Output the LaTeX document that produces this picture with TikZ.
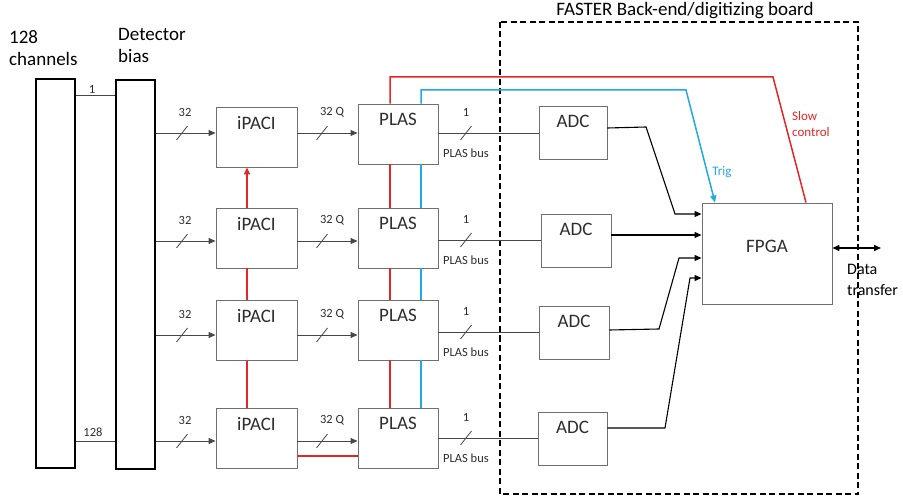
\documentclass[tikz,border=0pt]{standalone}
\usepackage{fontspec}
\setmainfont{Carlito}
\usetikzlibrary{arrows.meta,calc}
\definecolor{sred}{RGB}{228,38,38}
\definecolor{sblue}{RGB}{32,170,228}
\definecolor{bgray}{RGB}{112,112,112}
\definecolor{tgray}{RGB}{45,45,45}
\definecolor{lgray}{RGB}{70,70,70}
\tikzset{
  box/.style={draw=bgray, line width=0.9pt, inner sep=0pt, anchor=center},
  tall/.style={draw=black, line width=1.4pt, inner sep=0pt, minimum width=39, minimum height=389},
  big/.style={font=\fontsize{19}{21}\selectfont, text=tgray, inner sep=0pt},
  small/.style={font=\fontsize{12.5}{13}\selectfont, text=tgray, inner sep=0pt},
  head/.style={font=\fontsize{19}{22}\selectfont, text=black, inner sep=0pt, align=left, anchor=north west},
  conn/.style={draw=lgray, line width=0.9pt},
  arr/.style={conn, -{Triangle[length=7pt,width=6pt]}},
  fl/.style={draw=black, line width=1.1pt, -{Triangle[length=7pt,width=6pt]}},
  slash/.style={draw=lgray, line width=0.8pt},
  redl/.style={draw=sred, line width=1.5pt},
  bluel/.style={draw=sblue, line width=1.5pt},
}
\begin{document}
\begin{tikzpicture}[x=1pt,y=-1pt]
\useasboundingbox (0,0) rectangle (903,497);

% titles
\node[head] (t1) at (9,30) {128\\channels};
\node[head] (t2) at (118,28) {Detector\\bias};
\node[font=\fontsize{19}{21}\selectfont, inner sep=0pt] (t3) at (685,11) {FASTER Back-end/digitizing board};

% dashed board
\draw[dashed, line width=1.1pt, dash pattern=on 6pt off 3.5pt] (500,22) rectangle (858,494);

% tall boxes
\node[tall] (ch) at (55.5,273.5) {};
\node[tall] (db) at (135.5,274.5) {};

% row coordinates
\coordinate (a1) at (0,133);
\coordinate (a2) at (0,241);
\coordinate (a3) at (0,335);
\coordinate (a4) at (0,441);
\coordinate (b1) at (0,133);
\coordinate (b2) at (0,240);
\coordinate (b3) at (0,332);
\coordinate (b4) at (0,438);

% iPACI boxes
\foreach \i/\cy in {1/137,2/238,3/330.5,4/438}{
  \node[box, minimum width=81, minimum height=60] (ip\i) at (256.5,\cy) {};
  \node[big] (ipt\i) at ($(ip\i.north)+(0,16)$) {iPACI};
}
% PLAS boxes
\foreach \i/\cy in {1/134,2/238,3/330,4/438}{
  \node[box, minimum width=80, minimum height=60] (pl\i) at (398,\cy) {};
  \node[big] (plt\i) at ($(pl\i.north)+(0,16)$) {PLAS};
}
% ADC boxes
\node[box, minimum width=68, minimum height=53] (adc1) at (573,132.5) {};
\node[box, minimum width=70, minimum height=53] (adc2) at (576,240.5) {};
\node[box, minimum width=70, minimum height=53] (adc3) at (574,332.5) {};
\node[box, minimum width=69, minimum height=53] (adc4) at (572.5,438.5) {};
\foreach \i in {1,2,3,4}{
  \node[big] (adct\i) at ($(adc\i.north)+(0,16)$) {ADC};
}
% FPGA
\node[box, minimum width=130, minimum height=101] (fpga) at (767,253.5) {};
\node[big] (fpgat) at (767,246) {FPGA};

% channels to bias
\draw[conn] (ch.east |- 0,95) -- (db.west |- 0,95);
\node[small] (l1) at (92,89) {1};
\draw[conn] (ch.east |- 0,441) -- (db.west |- 0,441);
\node[small] (l128) at (93,432) {128};

% rows
\foreach \i in {1,2,3,4}{
  \draw[arr] (db.east |- a\i) -- (ip\i.west |- a\i);
  \draw[slash] ($(182,0 |- a\i)+(-5.5,7)$) -- ++(11,-14);
  \node[small] (n32\i) at ($(185,0 |- a\i)+(0,-21)$) {32};
  \draw[arr] (ip\i.east |- a\i) -- (pl\i.west |- a\i);
  \draw[slash] ($(322,0 |- a\i)+(-5.5,7)$) -- ++(11,-14);
  \node[small] (n32q\i) at ($(332,0 |- a\i)+(0,-21)$) {32 Q};
  \draw[conn] (pl\i.east |- b\i) -- (adc\i.west |- b\i);
  \draw[slash] ($(466,0 |- b\i)+(-5.5,7)$) -- ++(11,-14);
  \node[small] (nb\i) at ($(466,0 |- b\i)+(0,-21)$) {1};
  \node[small] (pb\i) at ($(466,0 |- b\i)+(0,20)$) {PLAS bus};
}

% red iPACI chain
\coordinate (ix) at (247,0);
\draw[redl] (ix |- ip4.north) -- (ix |- ip3.south);
\draw[redl] (ix |- ip3.north) -- (ix |- ip2.south);
\draw[redl, -{Triangle[length=7pt,width=6pt]}] (ix |- ip2.north) -- (ix |- ip1.south);
\draw[redl] (ip4.east |- 0,456) -- (pl4.west |- 0,456);

% red / blue PLAS chains
\coordinate (rx) at (390,0);
\coordinate (bx) at (421,0);
\draw[redl] (rx |- pl4.north) -- (rx |- pl3.south);
\draw[redl] (rx |- pl3.north) -- (rx |- pl2.south);
\draw[redl] (rx |- pl2.north) -- (rx |- pl1.south);
\draw[bluel] (bx |- pl4.north) -- (bx |- pl3.south);
\draw[bluel] (bx |- pl3.north) -- (bx |- pl2.south);
\draw[bluel] (bx |- pl2.north) -- (bx |- pl1.south);

\coordinate (rs1) at (773,77);
\coordinate (rs2) at (806,0);
\draw[redl] (rx |- pl1.north) -- (rx |- rs1) -- (rs1) -- (rs2 |- fpga.north);
\coordinate (bs1) at (686,90);
\coordinate (bs2) at (715,0);
\draw[bluel, -{Triangle[length=7pt,width=6pt]}] (bx |- pl1.north) -- (bx |- bs1) -- (bs1) -- (bs2 |- fpga.north);
\node[font=\fontsize{13}{16}\selectfont, text=sred, align=left, anchor=north west, inner sep=0pt] (sc) at (792,111) {Slow\\control};
\node[font=\fontsize{13}{15}\selectfont, text=sblue, inner sep=0pt] (tg) at (722,172) {Trig};

% ADC to FPGA
\coordinate (p1) at (646,127);
\coordinate (p2) at (675,214);
\draw[fl] (adc1.east |- 0,128) -- (p1) -- (p2) -- (fpga.west |- p2);
\draw[fl] (adc2.east |- 0,235) -- (fpga.west |- 0,235);
\coordinate (p3) at (659,329);
\coordinate (p4) at (679,258);
\draw[fl] (adc3.east |- 0,330) -- (p3) -- (p4) -- (fpga.west |- p4);
\coordinate (p5) at (665,428);
\coordinate (p6) at (690,278);
\draw[fl] (adc4.east |- 0,428) -- (p5) -- (p6) -- (fpga.west |- p6);

% data transfer
\coordinate (dt) at (881,248);
\draw[draw=black, line width=1.5pt, {Triangle[length=7pt,width=6pt]}-{Triangle[length=7pt,width=6pt]}] (fpga.east |- dt) -- (dt);
\node[font=\fontsize{16}{21}\selectfont, align=left, anchor=north west, inner sep=0pt] (dtt) at (847,264) {Data\\transfer};
\end{tikzpicture}
\end{document}
